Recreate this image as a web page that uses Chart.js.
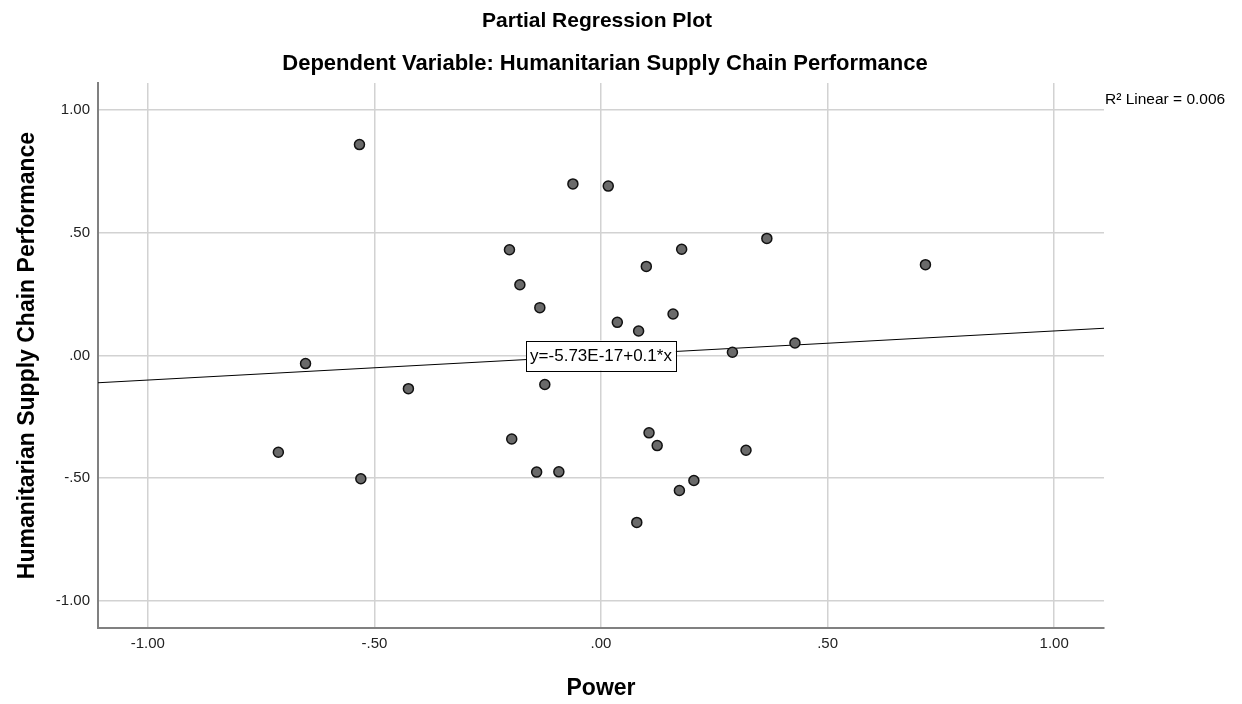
<!doctype html>
<html lang="en">
<head>
<meta charset="utf-8">
<title>Partial Regression Plot</title>
<script src="https://cdn.jsdelivr.net/npm/chart.js"></script>
<style>
  body{margin:0;background:#fff}
  #wrap{width:1242px;height:704px}
</style>
</head>
<body>
<div id="wrap"><canvas id="chart" width="1242" height="704"></canvas></div>

<script>
/* ---------- data ------------------------------------------------------ */
const powerX = [-0.533,-0.062, 0.016,-0.202,-0.179,-0.135, 0.366, 0.178, 0.100, 0.036,
                 0.159, 0.083, 0.290, 0.428,-0.652,-0.425,-0.124,-0.712,-0.530,-0.197,
                -0.142, 0.106, 0.124, 0.320,-0.093, 0.205, 0.173, 0.079, 0.716];
const hscpY  = [ 0.859, 0.699, 0.690, 0.431, 0.288, 0.195, 0.477, 0.433, 0.363, 0.135,
                 0.169, 0.100, 0.013, 0.051,-0.033,-0.135,-0.118,-0.394,-0.502,-0.340,
                -0.475,-0.315,-0.367,-0.386,-0.474,-0.509,-0.550,-0.680, 0.370];

const tickValues = [-1, -0.5, 0, 0.5, 1];
const xTickLabels = ['-1.00', '-.50', '.00', '.50', '1.00'];
const yTickLabels = ['-1.00', '-.50', '.00', '.50', '1.00'];
const axisRange = [-1.11, 1.11];

const fitIntercept = -5.73e-17, fitSlope = 0.1;
const fitLabel = 'y=-5.73E-17+0.1*x';
const r2Label = 'R\u00B2 Linear = 0.006';
const titleText = 'Partial Regression Plot';
const subtitleText = 'Dependent Variable: Humanitarian Supply Chain Performance';
const xTitle = 'Power';
const yTitle = 'Humanitarian Supply Chain Performance';

const FONT = '"Liberation Sans", Arial, sans-serif';

/* ---------- helpers ---------------------------------------------------- */
const scatterPts = powerX.map((x, i) => ({x, y: hscpY[i]}));
const fitPts = axisRange.map(x => ({x, y: fitIntercept + fitSlope * x}));

function keepTicks(scale){
  scale.ticks = tickValues.map(v => ({value: v}));
}
function tickText(labels){
  return v => { const i = tickValues.indexOf(v); return i < 0 ? '' : labels[i]; };
}

/* ---------- titles, equation box, R2 note ------------------------------ */
const annotate = {
  id: 'annotate',
  afterDatasetsDraw(chart){
    const {ctx, chartArea: a, scales: {x, y}} = chart;
    const cx = (a.left + a.right) / 2;
    ctx.save();
    ctx.fillStyle = '#000';
    ctx.textAlign = 'center';
    ctx.textBaseline = 'middle';
    ctx.font = `bold 21px ${FONT}`;
    ctx.fillText(titleText, cx - 4, 21);
    ctx.font = `bold 22px ${FONT}`;
    ctx.fillText(subtitleText, cx + 4, 64);

    // equation box on the fit line
    ctx.font = `17px ${FONT}`;
    const px = x.getPixelForValue(0), py = y.getPixelForValue(fitIntercept);
    const w = ctx.measureText(fitLabel).width + 8, h = 30;
    ctx.fillStyle = '#fff';
    ctx.fillRect(px - w / 2, py - h / 2, w, h);
    ctx.strokeStyle = '#000';
    ctx.lineWidth = 1;
    ctx.strokeRect(Math.round(px - w / 2) + .5, Math.round(py - h / 2) + .5, Math.round(w), h);
    ctx.fillStyle = '#000';
    ctx.fillText(fitLabel, px, py + 1);

    // R2 note, top right
    ctx.textAlign = 'left';
    ctx.font = `15.5px ${FONT}`;
    ctx.fillText(r2Label, a.right + 1, 100);
    ctx.restore();
  }
};

/* ---------- chart ------------------------------------------------------ */
new Chart(document.getElementById('chart'), {
  type: 'scatter',
  data: {datasets: [
    {type: 'line', data: fitPts, borderColor: '#000', borderWidth: 1,
     pointRadius: 0, fill: false, order: 2},
    {data: scatterPts, pointRadius: 5, pointHoverRadius: 5,
     backgroundColor: '#6a6a6a', borderColor: '#111', borderWidth: 1.5, order: 1}
  ]},
  options: {
    responsive: false,
    animation: false,
    events: [],
    layout: {padding: {left: 0, top: 83, right: 138, bottom: 0}},
    plugins: {legend: {display: false}, tooltip: {enabled: false}},
    scales: {
      x: {
        type: 'linear', min: axisRange[0], max: axisRange[1],
        afterBuildTicks: keepTicks,
        afterFit: s => { s.height = 76; },
        grid: {color: '#d2d2d2', lineWidth: 1.5, drawTicks: false},
        border: {color: '#808080', width: 2},
        ticks: {callback: tickText(xTickLabels), color: '#222', padding: 7,
                font: {family: FONT, size: 15}, maxRotation: 0},
        title: {display: true, text: xTitle, color: '#000',
                font: {family: FONT, size: 23, weight: 'bold'}, padding: {bottom: 2}}
      },
      y: {
        type: 'linear', min: axisRange[0], max: axisRange[1],
        afterBuildTicks: keepTicks,
        afterFit: s => { s.width = 98; },
        grid: {color: '#d2d2d2', lineWidth: 1.5, drawTicks: false},
        border: {color: '#808080', width: 2},
        ticks: {callback: tickText(yTickLabels), color: '#222', padding: 8,
                font: {family: FONT, size: 15}},
        title: {display: true, text: yTitle, color: '#000',
                font: {family: FONT, size: 23, weight: 'bold'}, padding: {top: 14}}
      }
    }
  },
  plugins: [annotate]
});
</script>
</body>
</html>
